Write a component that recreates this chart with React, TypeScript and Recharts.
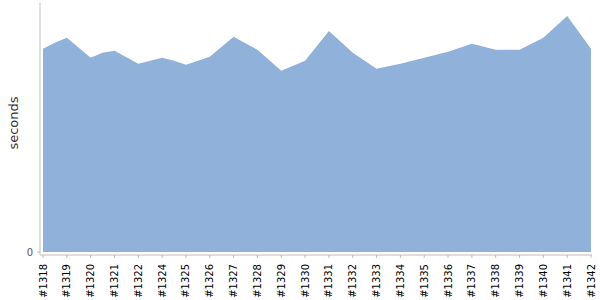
import { AreaChart, Area, XAxis, YAxis } from 'recharts';

// build labels (there is no #1323 in the source chart)
const builds = [
  '#1318', '#1319', '#1320', '#1321', '#1322', '#1324', '#1325', '#1326',
  '#1327', '#1328', '#1329', '#1330', '#1331', '#1332', '#1333', '#1334',
  '#1335', '#1336', '#1337', '#1338', '#1339', '#1340', '#1341', '#1342',
];

// duration per build
const buildSeconds = [
  204, 215, 195, 202, 189, 195, 188, 196,
  216, 203, 182, 192, 222, 200, 184, 189,
  195, 201, 209, 203, 203, 215, 237, 204,
];

// extra samples that sit between two builds
const midSteps = [0.5, 2.5, 5.5, 15.5];
const midSeconds = [210, 200, 192, 192];

const data = [
  ...buildSeconds.map((v, i) => ({ x: i, seconds: v })),
  ...midSteps.map((s, i) => ({ x: s, seconds: midSeconds[i] })),
].sort((a, b) => a.x - b.x);

const FONT = "'DejaVu Sans', Verdana, sans-serif";

const BuildTick = (props: any) => {
  const { x, payload } = props;
  const y = 264;
  return (
    <text
      x={x}
      y={y}
      dy="0.35em"
      transform={`rotate(-90, ${x}, ${y})`}
      textAnchor="end"
      fontSize={10}
      fontFamily={FONT}
      fill="#000"
    >
      {builds[payload.value]}
    </text>
  );
};

const SecondsLabel = () => {
  const cx = 13;
  const cy = 123;
  return (
    <text
      x={cx}
      y={cy}
      dy="0.35em"
      transform={`rotate(-90, ${cx}, ${cy})`}
      textAnchor="middle"
      fontSize={13}
      fontFamily={FONT}
      fill="#333"
    >
      seconds
    </text>
  );
};

export default function App() {
  return (
    <div style={{ position: 'absolute', left: 0, top: 0 }}>
      <AreaChart width={600} height={300} data={data} margin={{ top: 3, right: 8, left: 0, bottom: 0 }}>
        <XAxis
          type="number"
          dataKey="x"
          domain={[0, builds.length - 1]}
          ticks={builds.map((_, i) => i)}
          interval={0}
          tick={<BuildTick />}
          height={45}
          padding={{ left: 3, right: 1 }}
          tickSize={3}
          axisLine={{ stroke: '#bbb' }}
          tickLine={{ stroke: '#bbb' }}
        />
        <YAxis
          width={40}
          domain={[-3, 250]}
          ticks={[0]}
          allowDataOverflow
          tickSize={3}
          tickMargin={4}
          axisLine={{ stroke: '#bbb' }}
          tickLine={{ stroke: '#bbb' }}
          tick={{ fontSize: 10, fill: '#555', fontFamily: FONT }}
          label={<SecondsLabel />}
        />
        <Area
          type="linear"
          dataKey="seconds"
          baseValue={0}
          stroke="none"
          fill="#8fb1da"
          fillOpacity={1}
          isAnimationActive={false}
        />
      </AreaChart>
    </div>
  );
}
